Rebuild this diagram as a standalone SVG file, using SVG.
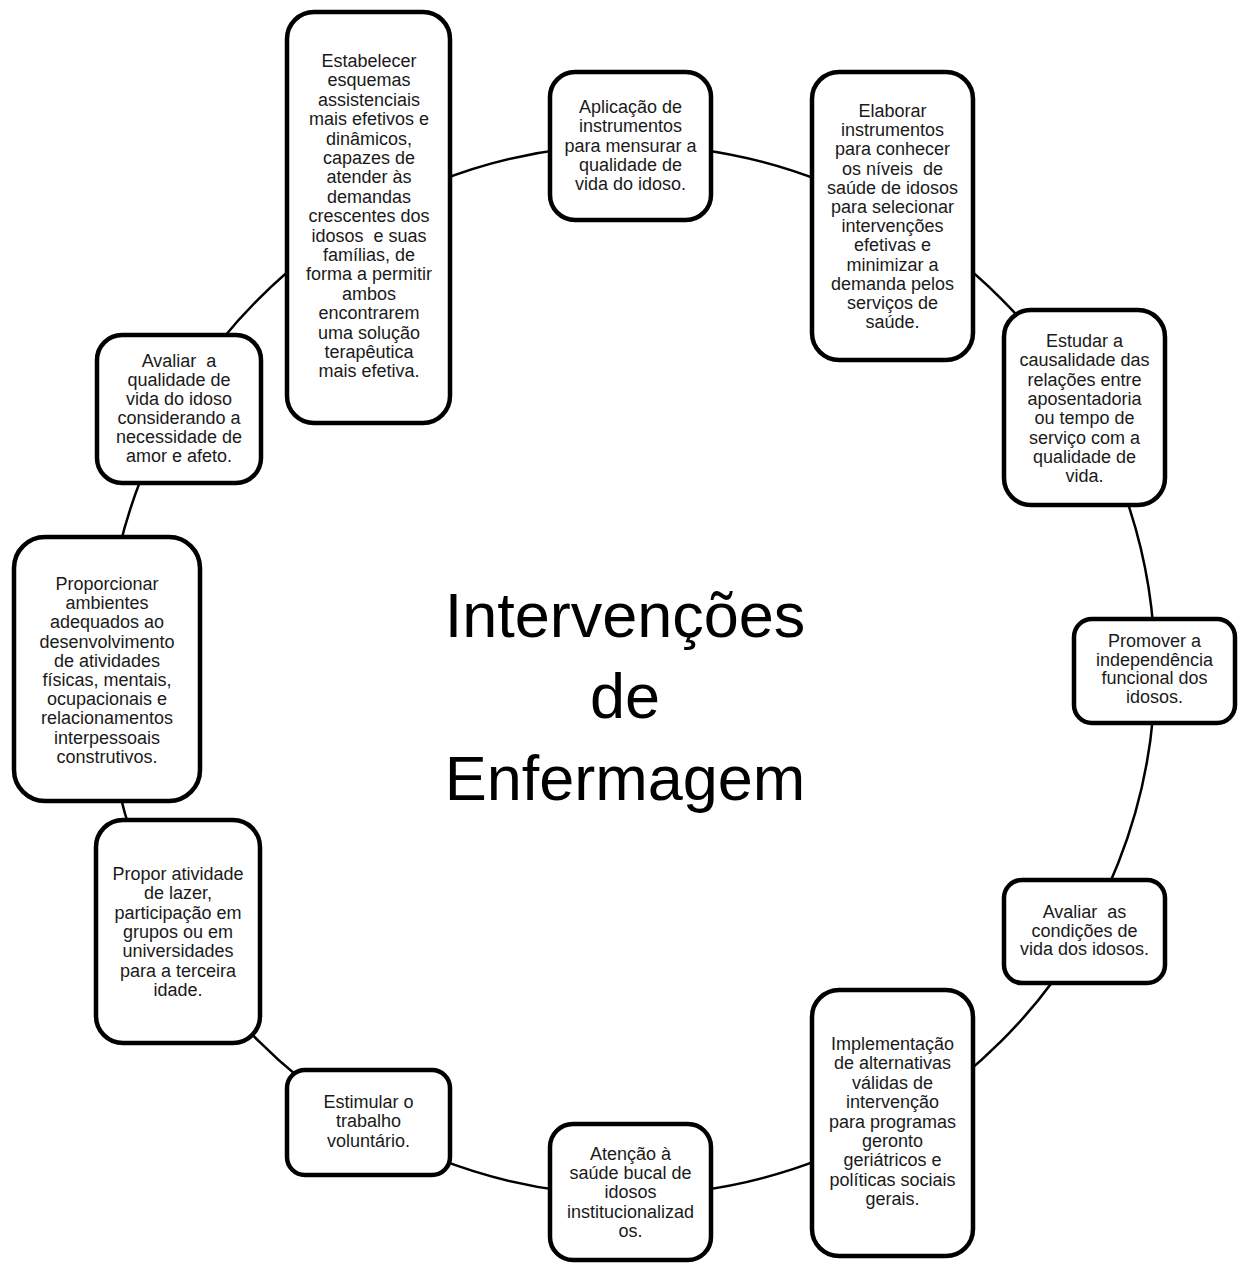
<svg xmlns="http://www.w3.org/2000/svg" width="1242" height="1264" viewBox="0 0 1242 1264">
<style>
.box{fill:#fff;stroke:#000;stroke-width:4.5}
.lbl{font-family:"Liberation Sans",Arial,sans-serif;font-size:18px;fill:#1a1a1a;text-anchor:middle;white-space:pre}
.title{font-family:"Liberation Sans",Arial,sans-serif;font-size:63px;fill:#000;text-anchor:middle}
.conn{fill:none;stroke:#000;stroke-width:2.5}
</style>
<rect width="1242" height="1264" fill="#fff"/>
<g id="connectors">
<circle class="conn" cx="630" cy="670" r="525"/>
</g>
<g id="center">
<text class="title" x="625" y="637">Intervenções</text>
<text class="title" x="625" y="718">de</text>
<text class="title" x="625" y="800">Enfermagem</text>
</g>
<g id="n1">
<rect class="box" x="287" y="12" width="163" height="411" rx="27"/>
<text class="lbl"><tspan x="369" y="67">Estabelecer</tspan><tspan x="369" y="86.4">esquemas</tspan><tspan x="369" y="105.8">assistenciais</tspan><tspan x="369" y="125.2">mais efetivos e</tspan><tspan x="369" y="144.6">dinâmicos,</tspan><tspan x="369" y="164">capazes de</tspan><tspan x="369" y="183.4">atender às</tspan><tspan x="369" y="202.8">demandas</tspan><tspan x="369" y="222.2">crescentes dos</tspan><tspan x="369" y="241.6">idosos  e suas</tspan><tspan x="369" y="261">famílias, de</tspan><tspan x="369" y="280.4">forma a permitir</tspan><tspan x="369" y="299.8">ambos</tspan><tspan x="369" y="319.2">encontrarem</tspan><tspan x="369" y="338.6">uma solução</tspan><tspan x="369" y="358">terapêutica</tspan><tspan x="369" y="377.4">mais efetiva.</tspan></text>
</g>
<g id="n2">
<rect class="box" x="550" y="72" width="161" height="148" rx="25"/>
<text class="lbl"><tspan x="630.5" y="113">Aplicação de</tspan><tspan x="630.5" y="132.3">instrumentos</tspan><tspan x="630.5" y="151.6">para mensurar a</tspan><tspan x="630.5" y="170.9">qualidade de</tspan><tspan x="630.5" y="190.2">vida do idoso.</tspan></text>
</g>
<g id="n3">
<rect class="box" x="812" y="72" width="161" height="288" rx="27"/>
<text class="lbl"><tspan x="892.5" y="117">Elaborar</tspan><tspan x="892.5" y="136.2">instrumentos</tspan><tspan x="892.5" y="155.4">para conhecer</tspan><tspan x="892.5" y="174.6">os níveis  de</tspan><tspan x="892.5" y="193.8">saúde de idosos</tspan><tspan x="892.5" y="213">para selecionar</tspan><tspan x="892.5" y="232.2">intervenções</tspan><tspan x="892.5" y="251.4">efetivas e</tspan><tspan x="892.5" y="270.6">minimizar a</tspan><tspan x="892.5" y="289.8">demanda pelos</tspan><tspan x="892.5" y="309">serviços de</tspan><tspan x="892.5" y="328.2">saúde.</tspan></text>
</g>
<g id="n4">
<rect class="box" x="1004" y="310" width="161" height="195" rx="27"/>
<text class="lbl"><tspan x="1084.5" y="347">Estudar a</tspan><tspan x="1084.5" y="366.3">causalidade das</tspan><tspan x="1084.5" y="385.6">relações entre</tspan><tspan x="1084.5" y="404.9">aposentadoria</tspan><tspan x="1084.5" y="424.2">ou tempo de</tspan><tspan x="1084.5" y="443.5">serviço com a</tspan><tspan x="1084.5" y="462.8">qualidade de</tspan><tspan x="1084.5" y="482.1">vida.</tspan></text>
</g>
<g id="n5">
<rect class="box" x="1074" y="619" width="161" height="104" rx="18"/>
<text class="lbl"><tspan x="1154.5" y="647">Promover a</tspan><tspan x="1154.5" y="665.7">independência</tspan><tspan x="1154.5" y="684.4">funcional dos</tspan><tspan x="1154.5" y="703.1">idosos.</tspan></text>
</g>
<g id="n6">
<rect class="box" x="1004" y="880" width="161" height="103" rx="18"/>
<text class="lbl"><tspan x="1084.5" y="918">Avaliar  as</tspan><tspan x="1084.5" y="936.5">condições de</tspan><tspan x="1084.5" y="955">vida dos idosos.</tspan></text>
</g>
<g id="n7">
<rect class="box" x="812" y="990" width="161" height="266" rx="27"/>
<text class="lbl"><tspan x="892.5" y="1050">Implementação</tspan><tspan x="892.5" y="1069.4">de alternativas</tspan><tspan x="892.5" y="1088.8">válidas de</tspan><tspan x="892.5" y="1108.2">intervenção</tspan><tspan x="892.5" y="1127.6">para programas</tspan><tspan x="892.5" y="1147">geronto</tspan><tspan x="892.5" y="1166.4">geriátricos e</tspan><tspan x="892.5" y="1185.8">políticas sociais</tspan><tspan x="892.5" y="1205.2">gerais.</tspan></text>
</g>
<g id="n8">
<rect class="box" x="550" y="1124" width="161" height="136" rx="23"/>
<text class="lbl"><tspan x="630.5" y="1160">Atenção à</tspan><tspan x="630.5" y="1179.2">saúde bucal de</tspan><tspan x="630.5" y="1198.4">idosos</tspan><tspan x="630.5" y="1217.6">institucionalizad</tspan><tspan x="630.5" y="1236.8">os.</tspan></text>
</g>
<g id="n9">
<rect class="box" x="287" y="1070" width="163" height="105" rx="18"/>
<text class="lbl"><tspan x="368.5" y="1108">Estimular o</tspan><tspan x="368.5" y="1127.3">trabalho</tspan><tspan x="368.5" y="1146.6">voluntário.</tspan></text>
</g>
<g id="n10">
<rect class="box" x="96" y="820" width="164" height="223" rx="27"/>
<text class="lbl"><tspan x="178" y="880">Propor atividade</tspan><tspan x="178" y="899.3">de lazer,</tspan><tspan x="178" y="918.6">participação em</tspan><tspan x="178" y="937.9">grupos ou em</tspan><tspan x="178" y="957.2">universidades</tspan><tspan x="178" y="976.5">para a terceira</tspan><tspan x="178" y="995.8">idade.</tspan></text>
</g>
<g id="n11">
<rect class="box" x="14" y="537" width="186" height="264" rx="31"/>
<text class="lbl"><tspan x="107" y="590">Proporcionar</tspan><tspan x="107" y="609.2">ambientes</tspan><tspan x="107" y="628.4">adequados ao</tspan><tspan x="107" y="647.6">desenvolvimento</tspan><tspan x="107" y="666.8">de atividades</tspan><tspan x="107" y="686">físicas, mentais,</tspan><tspan x="107" y="705.2">ocupacionais e</tspan><tspan x="107" y="724.4">relacionamentos</tspan><tspan x="107" y="743.6">interpessoais</tspan><tspan x="107" y="762.8">construtivos.</tspan></text>
</g>
<g id="n12">
<rect class="box" x="97" y="335" width="164" height="148" rx="25"/>
<text class="lbl"><tspan x="179" y="367">Avaliar  a</tspan><tspan x="179" y="386">qualidade de</tspan><tspan x="179" y="405">vida do idoso</tspan><tspan x="179" y="424">considerando a</tspan><tspan x="179" y="443">necessidade de</tspan><tspan x="179" y="462">amor e afeto.</tspan></text>
</g>
</svg>
